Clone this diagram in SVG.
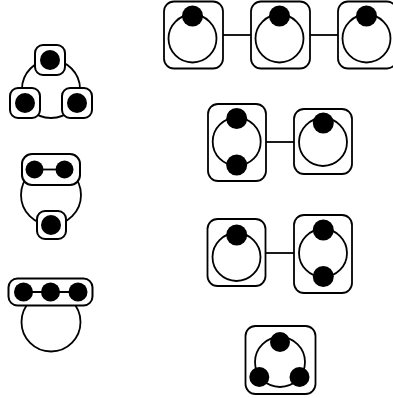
<svg xmlns="http://www.w3.org/2000/svg" width="393" height="398" viewBox="0 0 393 398">
<style>
.bg{fill:#fff}
.ring{fill:none;stroke:#000;stroke-width:1.8}
.box{fill:#fff;stroke:#000;stroke-width:1.8}
.sbox{fill:#fff;stroke:#000;stroke-width:2}
.dot{fill:#000}
.edge{stroke:#000;stroke-width:1.8;fill:none}
</style>
<rect class="bg" x="0" y="0" width="393" height="398"/>
<g id="left1">
<circle class="ring" cx="51" cy="89" r="29"/>
<rect class="sbox" x="35" y="45" width="30" height="30" rx="8"/>
<circle class="dot" cx="50" cy="60" r="10"/>
<rect class="sbox" x="10" y="88" width="30" height="30" rx="8"/>
<circle class="dot" cx="25" cy="103" r="10"/>
<rect class="sbox" x="62" y="88" width="30" height="30" rx="8"/>
<circle class="dot" cx="77" cy="103" r="10"/>
</g>
<g id="left2">
<circle class="ring" cx="51" cy="195" r="30"/>
<rect class="sbox" x="22" y="154" width="58" height="31" rx="10"/>
<line class="edge" x1="34" y1="169.5" x2="64" y2="169.5"/>
<circle class="dot" cx="34.5" cy="169.5" r="9"/>
<circle class="dot" cx="64.5" cy="169.5" r="9"/>
<rect class="sbox" x="37" y="211" width="29" height="28" rx="8"/>
<circle class="dot" cx="51" cy="225" r="10"/>
</g>
<g id="left3">
<circle class="ring" cx="51" cy="322" r="29.5"/>
<rect class="sbox" x="8.5" y="278.5" width="84" height="27" rx="9"/>
<line class="edge" x1="23" y1="292" x2="78" y2="292"/>
<circle class="dot" cx="23.5" cy="292" r="9.5"/>
<circle class="dot" cx="50.5" cy="292" r="9.5"/>
<circle class="dot" cx="78" cy="292" r="9.5"/>
</g>
<g id="connectors">
<line class="edge" x1="223" y1="35" x2="251" y2="35"/>
<line class="edge" x1="310" y1="35" x2="338" y2="35"/>
<line class="edge" x1="266" y1="142" x2="294" y2="142"/>
<line class="edge" x1="265" y1="253" x2="294" y2="253"/>
</g>
<g id="r1a">
<rect class="box" x="164" y="1.5" width="59" height="67" rx="10"/>
<circle class="ring" cx="192.5" cy="38.5" r="24"/>
<circle class="dot" cx="192.5" cy="16" r="10.5"/>
</g>
<g id="r1b">
<rect class="box" x="251" y="1.5" width="59" height="67" rx="10"/>
<circle class="ring" cx="279.5" cy="38.5" r="24"/>
<circle class="dot" cx="279.5" cy="16" r="10.5"/>
</g>
<g id="r1c">
<rect class="box" x="338" y="1.5" width="59" height="67" rx="10"/>
<circle class="ring" cx="366.5" cy="38.5" r="24"/>
<circle class="dot" cx="366.5" cy="16" r="10.5"/>
</g>
<g id="r2a">
<rect class="box" x="208" y="104" width="58" height="77" rx="10"/>
<circle class="ring" cx="236.7" cy="141.7" r="24"/>
<circle class="dot" cx="236.7" cy="118.5" r="10.5"/>
<circle class="dot" cx="236.7" cy="165" r="10.5"/>
</g>
<g id="r2b">
<rect class="box" x="294" y="109" width="58" height="65" rx="10"/>
<circle class="ring" cx="323" cy="142" r="24"/>
<circle class="dot" cx="323.3" cy="123" r="10.5"/>
</g>
<g id="r3a">
<rect class="box" x="207.5" y="219" width="58" height="67" rx="10"/>
<circle class="ring" cx="236.5" cy="257" r="24"/>
<circle class="dot" cx="236.7" cy="235" r="10.5"/>
</g>
<g id="r3b">
<rect class="box" x="294" y="215" width="58" height="78" rx="10"/>
<circle class="ring" cx="323" cy="253" r="24"/>
<circle class="dot" cx="323.3" cy="230" r="10.5"/>
<circle class="dot" cx="323.3" cy="276.5" r="10.5"/>
</g>
<g id="r4">
<rect class="box" x="245.5" y="326" width="70" height="68" rx="10"/>
<circle class="ring" cx="280" cy="362" r="25"/>
<circle class="dot" cx="280" cy="342" r="10"/>
<circle class="dot" cx="259.3" cy="377" r="10"/>
<circle class="dot" cx="299.5" cy="377" r="10"/>
</g>
</svg>
